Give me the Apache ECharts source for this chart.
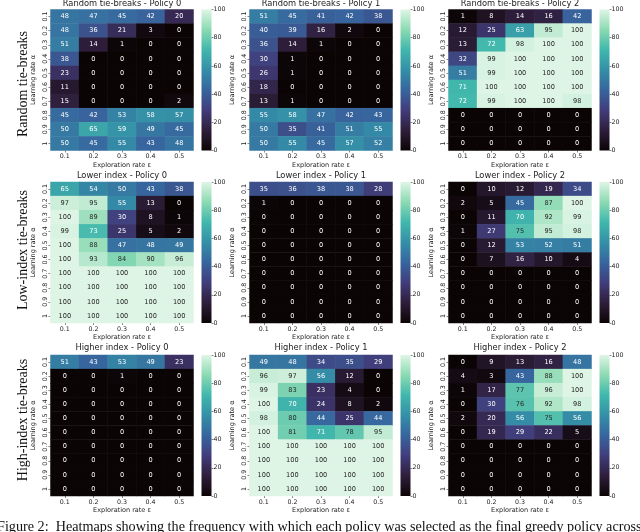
<!DOCTYPE html>
<html>
<head>
<meta charset="utf-8">
<script src="https://cdn.jsdelivr.net/npm/echarts@6/dist/echarts.min.js"></script>
<style>html,body{margin:0;padding:0;background:#fff;}#c{width:640px;height:532px;}</style>
</head>
<body>
<div id="c"></div>
<script>
const epsLabels = ['0.1','0.2','0.3','0.4','0.5'];
const alphaLabels = ['0.1','0.2','0.3','0.4','0.5','0.6','0.7','0.8','0.9','1'];
const titles = [
  'Random tie-breaks - Policy 0','Random tie-breaks - Policy 1','Random tie-breaks - Policy 2',
  'Lower index - Policy 0','Lower index - Policy 1','Lower index - Policy 2',
  'Higher index - Policy 0','Higher index - Policy 1','Higher index - Policy 2'
];
const rowLabels = ['Random tie-breaks','Low-index tie-breaks','High-index tie-breaks'];
const cbarMax = [100];

const randomP0 = [
  [48,47,45,42,20],[48,36,21,3,0],[51,14,1,0,0],[38,0,0,0,0],[23,0,0,0,0],
  [11,0,0,0,0],[15,0,0,0,2],[45,42,53,58,57],[50,65,59,49,45],[50,45,55,43,48]];
const randomP1 = [
  [51,45,41,42,38],[40,39,16,2,0],[36,14,1,0,0],[30,1,0,0,0],[26,1,0,0,0],
  [18,0,0,0,0],[13,1,0,0,0],[55,58,47,42,43],[50,35,41,51,55],[50,55,45,57,52]];
const randomP2 = [
  [1,8,14,16,42],[12,25,63,95,100],[13,72,98,100,100],[32,99,100,100,100],[51,99,100,100,100],
  [71,100,100,100,100],[72,99,100,100,98],[0,0,0,0,0],[0,0,0,0,0],[0,0,0,0,0]];
const lowerP0 = [
  [65,54,50,43,38],[97,95,55,13,0],[100,89,30,8,1],[99,73,25,5,2],[100,88,47,48,49],
  [100,93,84,90,96],[100,100,100,100,100],[100,100,100,100,100],[100,100,100,100,100],[100,100,100,100,100]];
const lowerP1 = [
  [35,36,38,38,28],[1,0,0,0,0],[0,0,0,0,0],[0,0,0,0,0],[0,0,0,0,0],
  [0,0,0,0,0],[0,0,0,0,0],[0,0,0,0,0],[0,0,0,0,0],[0,0,0,0,0]];
const lowerP2 = [
  [0,10,12,19,34],[2,5,45,87,100],[0,11,70,92,99],[1,27,75,95,98],[0,12,53,52,51],
  [0,7,16,10,4],[0,0,0,0,0],[0,0,0,0,0],[0,0,0,0,0],[0,0,0,0,0]];
const higherP0 = [
  [51,43,53,49,23],[0,0,1,0,0],[0,0,0,0,0],[0,0,0,0,0],[0,0,0,0,0],
  [0,0,0,0,0],[0,0,0,0,0],[0,0,0,0,0],[0,0,0,0,0],[0,0,0,0,0]];
const higherP1 = [
  [49,48,34,35,29],[96,97,56,12,0],[99,83,23,4,0],[100,70,24,8,2],[98,80,44,25,44],
  [100,81,71,78,95],[100,100,100,100,100],[100,100,100,100,100],[100,100,100,100,100],[100,100,100,100,100]];
const higherP2 = [
  [0,9,13,16,48],[4,3,43,88,100],[1,17,77,96,100],[0,30,76,92,98],[2,20,56,75,56],
  [0,19,29,22,5],[0,0,0,0,0],[0,0,0,0,0],[0,0,0,0,0],[0,0,0,0,0]];

const panelsData = [randomP0, randomP1, randomP2, lowerP0, lowerP1, lowerP2, higherP0, higherP1, higherP2];

const mako = ['#0b0405','#2e1e3b','#413d7b','#37659e','#348fa7','#40b7ad','#8bdab2','#def5e5'];

const colLeft = [50.5, 249.5, 448.5];
const rowTop = [9.5, 182, 355];
const titleY = [4, 176, 347.5];
const rowLabelY = [84, 250, 420];
const GW = 143, GH = 141;
const FONT = 'DejaVu Sans';

const grid = [], xAxis = [], yAxis = [], series = [], graphic = [];

panelsData.forEach((mat, i) => {
  const r = Math.floor(i / 3), c = i % 3;
  grid.push({left: colLeft[c], top: rowTop[r], width: GW, height: GH, containLabel: false});
  xAxis.push({
    type: 'category', gridIndex: i, data: epsLabels,
    axisLine: {show: false},
    axisTick: {show: true, alignWithLabel: true, length: 2, lineStyle: {color: '#333', width: 0.6}},
    axisLabel: {fontSize: 6.3, color: '#222', margin: 3, fontFamily: FONT},
    splitLine: {show: false},
    name: 'Exploration rate \u03b5', nameLocation: 'middle', nameGap: 11,
    nameTextStyle: {fontSize: 6.5, color: '#222', fontFamily: FONT}
  });
  yAxis.push({
    type: 'category', gridIndex: i, data: alphaLabels, inverse: true,
    axisLine: {show: false},
    axisTick: {show: true, alignWithLabel: true, length: 2, lineStyle: {color: '#333', width: 0.6}},
    axisLabel: {fontSize: 6.3, color: '#222', margin: 2, rotate: 90, fontFamily: FONT},
    splitLine: {show: false},
    name: 'Learning rate \u03b1', nameLocation: 'middle', nameGap: 14, nameRotate: 90,
    nameTextStyle: {fontSize: 6.5, color: '#222', fontFamily: FONT}
  });
  const data = [];
  mat.forEach((row, yi) => row.forEach((v, xi) => {
    data.push({value: [xi, yi, v], label: {color: v >= 74 ? '#262626' : '#ffffff'}});
  }));
  series.push({
    type: 'heatmap', xAxisIndex: i, yAxisIndex: i, data: data,
    itemStyle: {borderWidth: 0.4, borderColor: 'rgba(255,255,255,0.05)'},
    label: {show: true, fontSize: 6.6, fontFamily: FONT},
    emphasis: {disabled: true}, silent: true
  });
  graphic.push({
    type: 'text', x: colLeft[c] + GW / 2, y: titleY[r],
    style: {text: titles[i], font: '8.3px "DejaVu Sans"', fill: '#222', textAlign: 'center', textVerticalAlign: 'middle'}
  });
});

// colorbars
panelsData.forEach((mat, i) => {
  const r = Math.floor(i / 3), c = i % 3;
  const gi = 9 + i;
  grid.push({left: colLeft[c] + 151, top: rowTop[r], width: 10, height: GH, containLabel: false});
  xAxis.push({type: 'category', gridIndex: gi, data: [''], show: false});
  yAxis.push({
    type: 'value', gridIndex: gi, min: 0, max: 100, interval: 20, position: 'right',
    axisLine: {show: false},
    axisTick: {show: true, length: 2, lineStyle: {color: '#333', width: 0.6}},
    axisLabel: {fontSize: 6.3, color: '#222', margin: 2, fontFamily: FONT},
    splitLine: {show: false}
  });
  series.push({
    type: 'bar', xAxisIndex: gi, yAxisIndex: gi, data: cbarMax, barWidth: '100%', silent: true,
    itemStyle: {color: new echarts.graphic.LinearGradient(0, 1, 0, 0,
      mako.map((col, k) => ({offset: k / (mako.length - 1), color: col})))}
  });
});

rowLabels.forEach((t, r) => {
  graphic.push({
    type: 'text', x: 23, y: rowLabelY[r], rotation: Math.PI / 2,
    style: {text: t, font: '14px "Liberation Serif"', fill: '#111', textAlign: 'center', textVerticalAlign: 'middle'}
  });
});
graphic.push({
  type: 'text', x: -3, y: 520,
  style: {text: 'Figure 2:  Heatmaps showing the frequency with which each policy was selected as the final greedy policy across',
    font: '14.2px "Liberation Serif"', fill: '#111', textAlign: 'left', textVerticalAlign: 'top'}
});

const chart = echarts.init(document.getElementById('c'), null, {renderer: 'canvas'});
chart.setOption({
  animation: false,
  backgroundColor: '#ffffff',
  grid, xAxis, yAxis, series, graphic,
  visualMap: [{type: 'continuous', show: false, min: 0, max: 100, seriesIndex: [0,1,2,3,4,5,6,7,8], inRange: {color: mako}}]
});
</script>
</body>
</html>
